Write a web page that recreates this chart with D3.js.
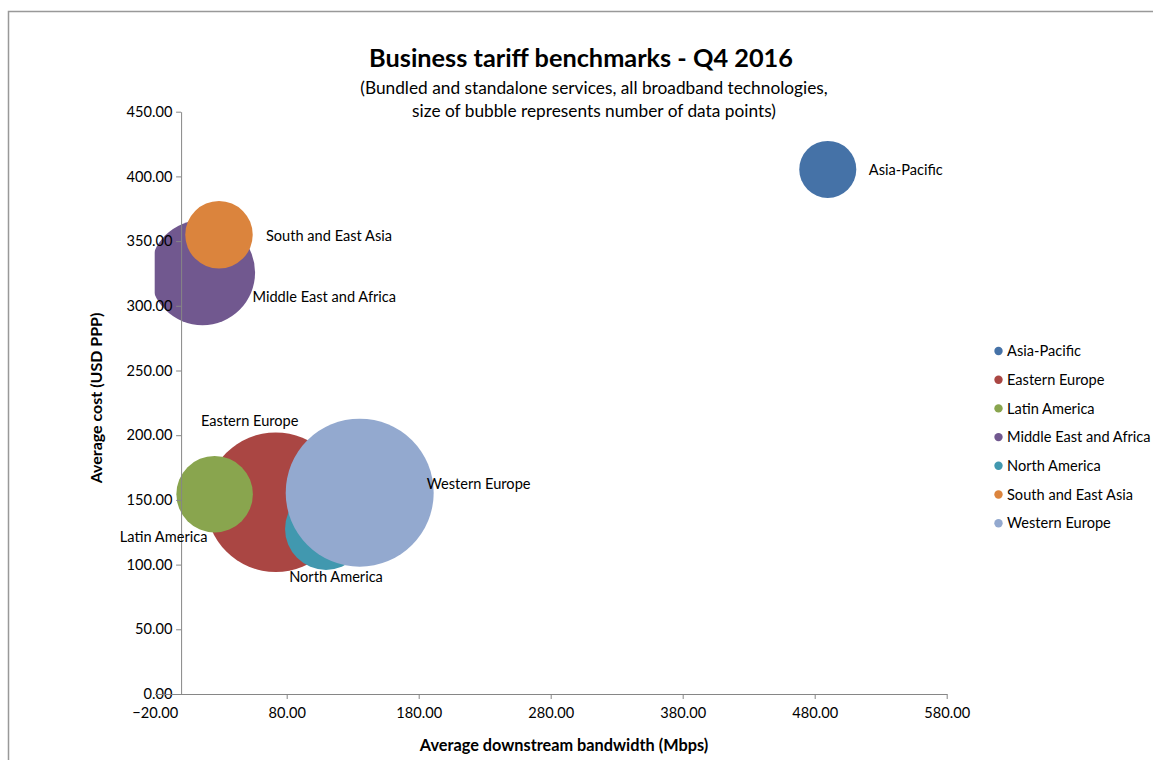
<!DOCTYPE html>
<html>
<head>
<meta charset="utf-8">
<script src="https://cdn.jsdelivr.net/npm/d3@7"></script>
<style>
  html, body { margin: 0; padding: 0; background: #fff; }
  svg text { font-family: Lato, "Open Sans", sans-serif; fill: #000; }
</style>
</head>
<body>
<svg id="chart" width="1153" height="760"></svg>
<script>
// Regions, in legend order
const regions = ["Asia-Pacific", "Eastern Europe", "Latin America", "Middle East and Africa",
                 "North America", "South and East Asia", "Western Europe"];
// Average downstream bandwidth (Mbps)
const bandwidth = [489.9, 71.7, 25.4, 16.2, 109.8, 28.7, 135.3];
// Average cost (USD PPP)
const cost = [405.4, 148.2, 154.4, 325.7, 127.6, 354.9, 155.6];
// Number of data points (bubble size)
const dataPoints = [15, 90, 27, 51, 31, 21, 101];
const colors = ["#4572A7", "#AA4643", "#89A54E", "#71588F", "#4198AF", "#DB843D", "#93A9CF"];

const xTicks = [-20, 80, 180, 280, 380, 480, 580];
const yTicks = [0, 50, 100, 150, 200, 250, 300, 350, 400, 450];

// Label placement relative to each bubble centre (dx, dy, anchor)
const labelPos = [
  { dx: 41, dy: 0, anchor: "start" },
  { dx: -26, dy: -81, anchor: "middle" },
  { dx: -51, dy: 43, anchor: "middle" },
  { dx: 50, dy: 24, anchor: "start" },
  { dx: 10, dy: 48, anchor: "middle" },
  { dx: 47, dy: 1, anchor: "start" },
  { dx: 67, dy: -9, anchor: "start" }
];

const FS = 14.6;   // body text size

const svg = d3.select("#chart");

// Chart frame
svg.append("path")
  .attr("d", "M8.5,760 L8.5,11.5 L1153,11.5")
  .attr("fill", "none").attr("stroke", "#999").attr("stroke-width", 1.5);

const plot = { left: 154.7, right: 946.7, top: 111.7, bottom: 694 };
const x = d3.scaleLinear().domain([-20, 580]).range([plot.left, plot.right]);
const y = d3.scaleLinear().domain([0, 450]).range([plot.bottom, plot.top]);
const r = d3.scaleSqrt().domain([0, d3.max(dataPoints)]).range([0, 74]);

// Title
svg.append("text").attr("x", 581).attr("y", 67).attr("text-anchor", "middle")
  .attr("font-size", 25.3).attr("font-weight", "bold")
  .text("Business tariff benchmarks - Q4 2016");
svg.append("text").attr("x", 594).attr("y", 94).attr("text-anchor", "middle")
  .attr("font-size", 17.3)
  .text("(Bundled and standalone services, all broadband technologies,");
svg.append("text").attr("x", 594).attr("y", 117).attr("text-anchor", "middle")
  .attr("font-size", 17.3)
  .text("size of bubble represents number of data points)");

// Bubbles, clipped to the plot area
svg.append("clipPath").attr("id", "plotClip").append("rect")
  .attr("x", plot.left).attr("y", plot.top)
  .attr("width", plot.right - plot.left).attr("height", plot.bottom - plot.top);

const idx = d3.range(regions.length);

svg.append("g").attr("clip-path", "url(#plotClip)")
  .selectAll("circle").data(idx).join("circle")
  .attr("cx", i => x(bandwidth[i]))
  .attr("cy", i => y(cost[i]))
  .attr("r", i => r(dataPoints[i]))
  .attr("fill", i => colors[i]);

// Axes: y axis crosses at x = 0, x axis at y = 0
const axisColor = "#868686";
const yAxis = svg.append("g").attr("transform", `translate(${x(0)},0)`)
  .call(d3.axisLeft(y).tickValues(yTicks).tickFormat(d3.format(".2f")).tickSize(5).tickSizeOuter(0).tickPadding(3));
const xAxis = svg.append("g").attr("transform", `translate(0,${y(0)})`)
  .call(d3.axisBottom(x).tickValues(xTicks).tickFormat(d3.format(".2f")).tickSize(5).tickSizeOuter(0).tickPadding(4));
[xAxis, yAxis].forEach(g => {
  g.select(".domain").attr("stroke", axisColor);
  g.selectAll(".tick line").attr("stroke", axisColor);
  g.selectAll(".tick text").attr("font-size", FS).attr("font-family", "Lato, 'Open Sans', sans-serif").attr("fill", "#000");
});
// the -20 tick sits left of the vertical axis; it gets no tick mark
xAxis.selectAll(".tick").filter(d => d === -20).select("line").remove();
xAxis.selectAll(".tick text").attr("dy", "1.05em");
yAxis.selectAll(".tick text").attr("dx", "-0.05em");

// Bubble labels
svg.append("g").selectAll("text").data(idx).join("text")
  .attr("x", i => x(bandwidth[i]) + labelPos[i].dx)
  .attr("y", i => y(cost[i]) + labelPos[i].dy)
  .attr("dy", "0.35em")
  .attr("text-anchor", i => labelPos[i].anchor)
  .attr("font-size", FS)
  .text(i => regions[i]);

// Axis titles
svg.append("text").attr("x", 564).attr("y", 751).attr("text-anchor", "middle")
  .attr("font-size", 16.3).attr("font-weight", "bold")
  .text("Average downstream bandwidth (Mbps)");
svg.append("text").attr("transform", "translate(102,398) rotate(-90)")
  .attr("text-anchor", "middle").attr("font-size", 16).attr("font-weight", "bold")
  .text("Average cost (USD PPP)");

// Legend
const legend = svg.append("g").selectAll("g").data(idx).join("g")
  .attr("transform", i => `translate(998.5,${351 + i * 28.7})`);
legend.append("circle").attr("r", 4.2).attr("fill", i => colors[i]);
legend.append("text").attr("x", 8.5).attr("dy", "0.35em").attr("font-size", FS)
  .text(i => regions[i]);
</script>
</body>
</html>
